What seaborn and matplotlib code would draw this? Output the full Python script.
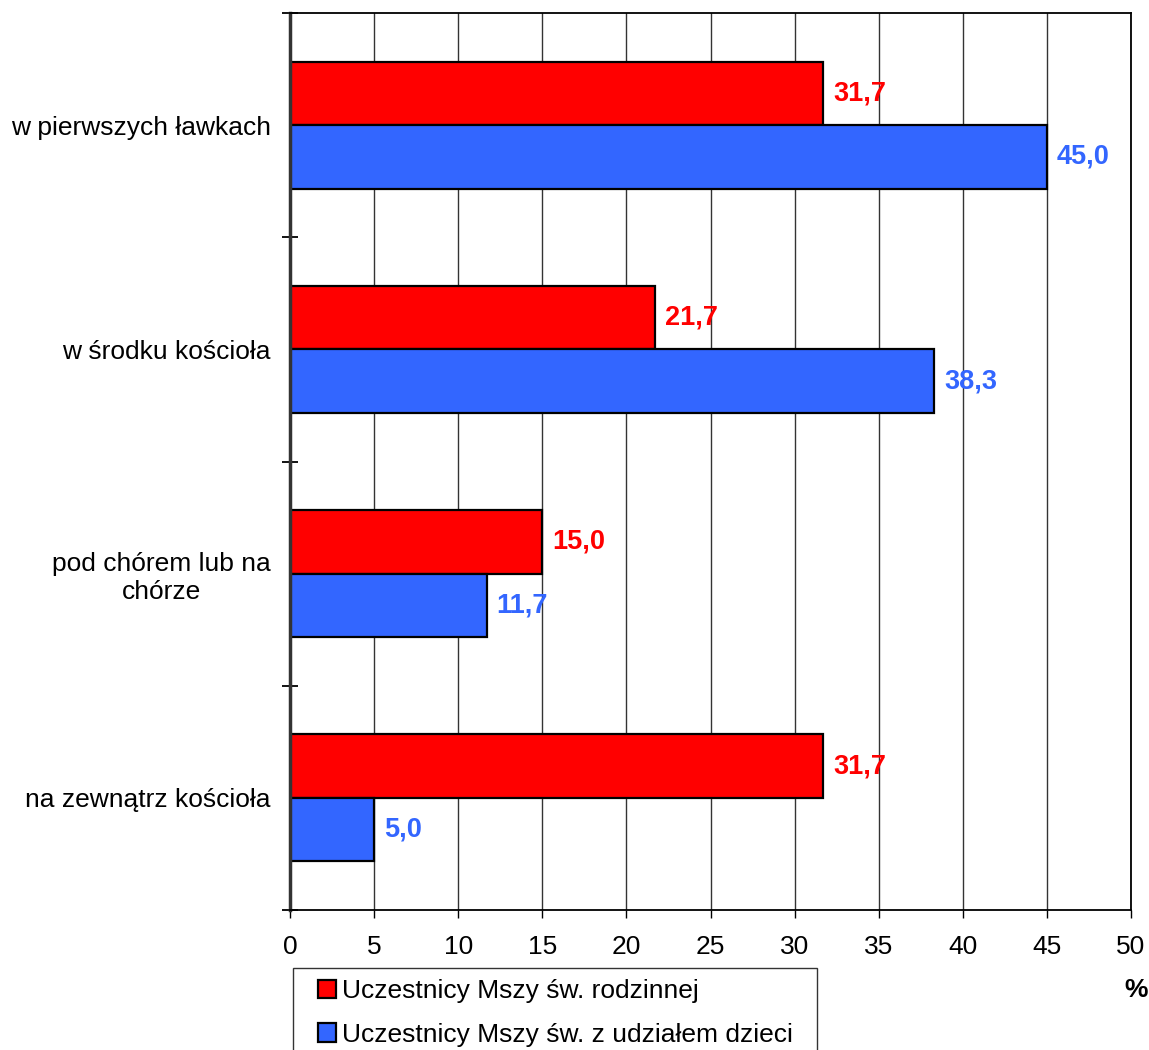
import pandas as pd
import seaborn as sns
import matplotlib.pyplot as plt
from matplotlib.patches import Patch, Rectangle

# data
categories = ["w pierwszych ławkach", "w środku kościoła", "pod chórem lub na\nchórze", "na zewnątrz kościoła"]
series_names = ["Uczestnicy Mszy św. rodzinnej", "Uczestnicy Mszy św. z udziałem dzieci"]
rodzinnej = [31.7, 21.7, 15.0, 31.7]
dzieci = [45.0, 38.3, 11.7, 5.0]
colors = ["#FF0000", "#3366FF"]

df = pd.DataFrame({
    "kategoria": categories * 2,
    "seria": [series_names[0]] * 4 + [series_names[1]] * 4,
    "wartosc": rodzinnej + dzieci,
})

sns.set_style("white")
plt.rcParams["font.family"] = ["Liberation Sans", "DejaVu Sans"]
plt.rcParams["text.color"] = "black"
plt.rcParams["xtick.color"] = "black"
plt.rcParams["ytick.color"] = "black"

fig = plt.figure(figsize=(11.49, 10.5), dpi=100)
ax = fig.add_axes([290 / 1149, 1 - 910 / 1050, (1131 - 290) / 1149, (910 - 13) / 1050])

sns.barplot(data=df, y="kategoria", x="wartosc", hue="seria", orient="h",
            palette=colors, width=0.567, edgecolor="black", linewidth=1.6,
            saturation=1, legend=False, ax=ax)

ax.set_xlim(0, 50)
ax.set_ylim(3.5, -0.5)
ax.set_xticks(range(0, 51, 5))
ax.set_xlabel("")
ax.set_ylabel("")
ax.grid(axis="x", color="#333333", linewidth=1)
ax.set_axisbelow(True)

for s in ["top", "right", "bottom"]:
    ax.spines[s].set_color("black")
    ax.spines[s].set_linewidth(1.3)
ax.spines["left"].set_color("#333333")
ax.spines["left"].set_linewidth(2.5)

ax.tick_params(axis="x", labelsize=19, direction="out", length=6, width=1, pad=12, bottom=True)
ax.tick_params(axis="y", which="major", length=0, labelsize=19, pad=14)
ax.set_yticks([-0.5, 0.5, 1.5, 2.5, 3.5], minor=True)
ax.tick_params(axis="y", which="minor", direction="inout", length=12, width=1.3, left=True)
for lbl in ax.get_yticklabels():
    lbl.set_multialignment("center")

# value labels
for container, color in zip(ax.containers, colors):
    labels = [f"{v:.1f}".replace(".", ",") for v in container.datavalues]
    ax.bar_label(container, labels=labels, padding=7, color=color,
                 fontsize=19.5, fontweight="bold")

# legend frame (runs off the bottom edge like the original)
fig.patches.append(Rectangle((293 / 1149, 1 - 1060 / 1050), (817 - 293) / 1149, 92 / 1050,
                             transform=fig.transFigure, facecolor="white",
                             edgecolor="#333333", linewidth=1))
handles = [Patch(facecolor=c, edgecolor="black", linewidth=1.6) for c in colors]
fig.legend(handles, series_names, loc="upper left",
           bbox_to_anchor=(318 / 1149, 1 - 979 / 1050), fontsize=19,
           frameon=False, handlelength=0.7, handleheight=0.7, handletextpad=0.2,
           labelspacing=0.75, borderpad=0, borderaxespad=0)

fig.text(1136 / 1149, 1 - 990 / 1050, "%", fontsize=19, fontweight="bold",
         ha="center", va="center")

fig.savefig("out.png", dpi=100)
